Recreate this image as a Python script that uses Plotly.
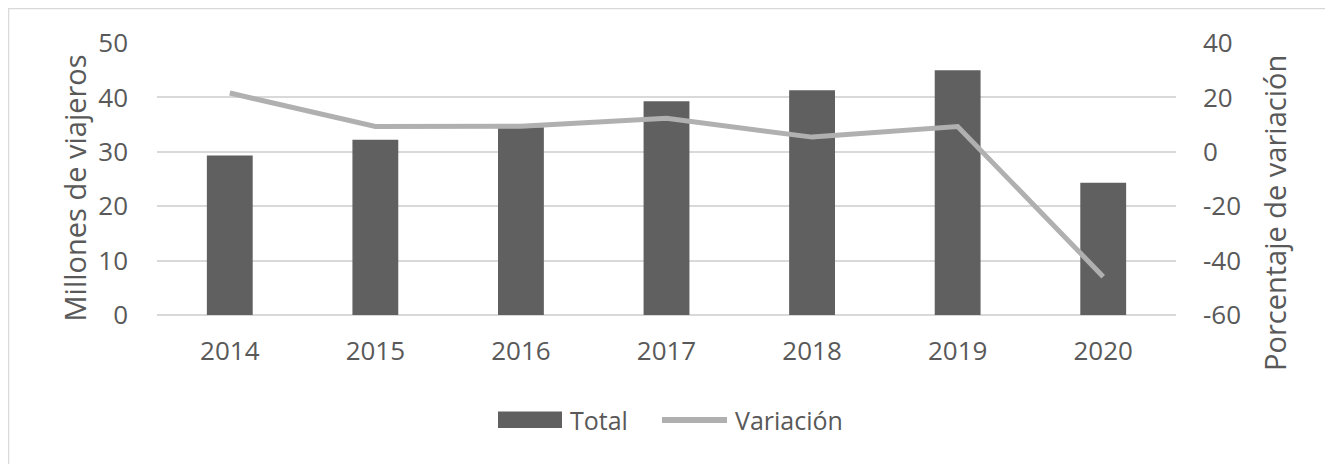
import plotly.graph_objects as go

years = ["2014", "2015", "2016", "2017", "2018", "2019", "2020"]
total = [29.3, 32.2, 34.5, 39.3, 41.3, 45.0, 24.3]
variacion = [21.6, 9.3, 9.4, 12.3, 5.4, 9.3, -45.9]
y1_ticks = [0, 10, 20, 30, 40, 50]
y2_ticks = [-60, -40, -20, 0, 20, 40]

# the page adds an 8px body margin, so the figure is drawn 8px smaller
OFF = 8
W, H = 1333 - OFF, 464 - OFF
ml = 157 - OFF
mt = 43 - OFF
plot_right = 1176 - OFF
plot_bottom = 315 - OFF
mr = W - plot_right
mb = H - plot_bottom
pw, ph = W - ml - mr, H - mt - mb
txt = "#595959"
font = "Open Sans"
bar_color = "#606060"
line_color = "#B0B0B0"


def px_x(page_px):
    return (page_px - OFF - ml) / pw


def px_y(page_py):
    return (H - mb - (page_py - OFF)) / ph


fig = go.Figure()
fig.add_trace(go.Bar(x=years, y=total, name="Total",
                     marker=dict(color=bar_color, line=dict(width=0)),
                     yaxis="y", showlegend=False))
fig.add_trace(go.Scatter(x=years, y=variacion, name="Variación", mode="lines",
                         line=dict(color=line_color, width=5),
                         yaxis="y2", showlegend=False))

shapes = [
    dict(type="line", xref="paper", yref="paper", x0=0, x1=1, y0=0, y1=0,
         line=dict(color="#D9D9D9", width=2), layer="below"),
    dict(type="rect", xref="paper", yref="paper",
         x0=px_x(8.5), x1=px_x(1345), y0=px_y(475), y1=px_y(8.5),
         line=dict(color="#D9D9D9", width=1.5), fillcolor="rgba(0,0,0,0)"),
    # legend swatches
    dict(type="rect", xref="paper", yref="paper",
         x0=px_x(498), x1=px_x(562), y0=px_y(428), y1=px_y(411.5),
         line=dict(width=0), fillcolor=bar_color),
    dict(type="line", xref="paper", yref="paper",
         x0=px_x(662), x1=px_x(727), y0=px_y(420), y1=px_y(420),
         line=dict(color=line_color, width=6)),
]

annotations = [
    dict(text="Millones de viajeros", xref="paper", yref="paper",
         x=px_x(74), y=px_y(53), xanchor="center", yanchor="top",
         textangle=-90, showarrow=False, font=dict(size=29, color=txt)),
    dict(text="Porcentaje de variación", xref="paper", yref="paper",
         x=px_x(1274), y=px_y(53), xanchor="center", yanchor="top",
         textangle=-90, showarrow=False, font=dict(size=29, color=txt)),
    dict(text="Total", xref="paper", yref="paper",
         x=px_x(568), y=px_y(420), xanchor="left", yanchor="middle",
         showarrow=False, font=dict(size=25, color=txt)),
    dict(text="Variación", xref="paper", yref="paper",
         x=px_x(733), y=px_y(420), xanchor="left", yanchor="middle",
         showarrow=False, font=dict(size=25, color=txt)),
]

fig.update_layout(
    width=W, height=H,
    margin=dict(l=ml, r=mr, t=mt, b=mb),
    paper_bgcolor="white", plot_bgcolor="white",
    font=dict(family=font, color=txt, size=26),
    bargap=0.685,
    showlegend=False,
    xaxis=dict(showgrid=False, showline=False, ticks="", automargin=False,
               ticklabelstandoff=18, tickfont=dict(size=26, color=txt)),
    yaxis=dict(range=[0, 50], tickvals=y1_ticks, ticktext=[str(v) for v in y1_ticks],
               showgrid=True, gridcolor="#D9D9D9", gridwidth=1.5,
               zeroline=False, showline=False, ticks="", automargin=False,
               ticklabelstandoff=28, tickfont=dict(size=26, color=txt)),
    yaxis2=dict(range=[-60, 40], tickvals=y2_ticks, ticktext=[str(v) for v in y2_ticks],
                overlaying="y", side="right", showgrid=False,
                zeroline=False, showline=False, ticks="", automargin=False,
                ticklabelstandoff=26, tickfont=dict(size=26, color=txt)),
    shapes=shapes,
    annotations=annotations,
)

fig.write_html("out.html")
